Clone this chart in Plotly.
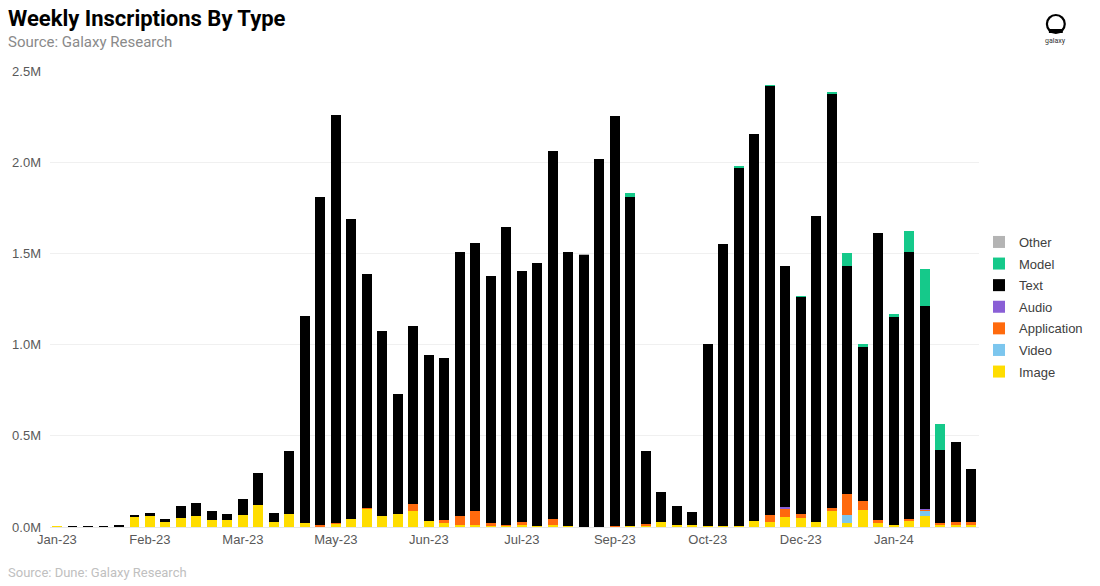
import pandas as pd
import plotly.graph_objects as go

# Weekly categories (week start dates)
weeks = pd.date_range("2023-01-02", periods=60, freq="7D")

# Values in millions of inscriptions per week
image = [0.004, 0, 0, 0, 0.003, 0.055, 0.06, 0.027, 0.049, 0.06,
         0.038, 0.038, 0.066, 0.12, 0.027, 0.071, 0.022, 0.004, 0.02, 0.044,
         0.099, 0.06, 0.071, 0.088, 0.033, 0.02, 0.011, 0.011, 0.006, 0.006,
         0.01, 0.006, 0.012, 0.005, 0.0, 0.002, 0.0, 0.006, 0.008, 0.027,
         0.01, 0.01, 0.008, 0.005, 0.005, 0.033, 0.027, 0.055, 0.049, 0.027,
         0.088, 0.022, 0.093, 0.022, 0.01, 0.038, 0.06, 0.01, 0.01, 0.012]
video = [0] * 51 + [0.044, 0, 0, 0, 0, 0.028, 0, 0, 0]
application = [0, 0, 0, 0, 0, 0, 0, 0, 0, 0,
               0, 0, 0, 0, 0, 0, 0, 0.008, 0.003, 0,
               0.006, 0, 0, 0.038, 0, 0.018, 0.049, 0.077, 0.016, 0.003,
               0.017, 0, 0.032, 0, 0, 0, 0.005, 0, 0.008, 0,
               0, 0, 0, 0, 0, 0, 0.039, 0.049, 0.022, 0,
               0.016, 0.114, 0.05, 0.016, 0, 0.006, 0.008, 0.012, 0.017, 0.015]
audio = [0] * 47 + [0.003] + [0] * 8 + [0.004, 0, 0, 0]
text = [0, 0.004, 0.004, 0.004, 0.004, 0.011, 0.017, 0.017, 0.066, 0.07,
        0.05, 0.033, 0.089, 0.176, 0.05, 0.346, 1.135, 1.797, 2.236, 1.645,
        1.282, 1.015, 0.658, 0.976, 0.91, 0.889, 1.448, 1.467, 1.354, 1.636,
        1.377, 1.441, 2.017, 1.502, 1.492, 2.016, 2.248, 1.803, 0.401, 0.163,
        0.105, 0.072, 0.995, 1.546, 1.963, 2.122, 2.352, 1.324, 1.19, 1.678,
        2.27, 1.251, 0.844, 1.572, 1.141, 1.464, 1.11, 0.398, 0.438, 0.293]
model = [0] * 37 + [0.022] + [0] * 6 + [0.011, 0, 0.005, 0, 0.005, 0,
                                       0.011, 0.071, 0.016, 0, 0.017, 0.115, 0.204, 0.143, 0, 0]
other = [0] * 34 + [0.004] + [0] * 25

series = [
    ("Image", image, "#FFDD00"),
    ("Video", video, "#7CC6EE"),
    ("Application", application, "#FF6A0D"),
    ("Audio", audio, "#8A5FD6"),
    ("Text", text, "#000000"),
    ("Model", model, "#15C98A"),
    ("Other", other, "#B4B4B4"),
]

ytick_vals = [0, 0.5e6, 1.0e6, 1.5e6, 2.0e6, 2.5e6]
ytick_text = ["0.0M", "0.5M", "1.0M", "1.5M", "2.0M", "2.5M"]

fig = go.Figure()
n = len(series)
for i, (name, vals, color) in enumerate(series):
    fig.add_trace(go.Bar(
        x=weeks, y=[v * 1e6 for v in vals], name=name, legendgroup=name,
        legendrank=n - i,
        marker=dict(color=color, line=dict(width=0)),
    ))

# pixel -> paper helpers for decorations outside the plot
L, R, T, B = 48, 985, 71, 527
def px(x):
    return (x - L) / (R - L)
def py(y):
    return (B - y) / (B - T)

week = pd.Timedelta(days=7)
fig.update_layout(
    width=1100, height=586,
    margin=dict(l=L, r=1100 - R, t=T, b=586 - B),
    barmode="stack", bargap=0.36,
    plot_bgcolor="white", paper_bgcolor="white",
    font=dict(family="Liberation Sans, Arial", color="#595959", size=13),
    showlegend=True,
    legend=dict(traceorder="grouped", x=px(985), y=py(307), xanchor="left", yanchor="middle",
                font=dict(size=13, color="#404040"), tracegroupgap=1.7,
                bgcolor="rgba(0,0,0,0)"),
    xaxis=dict(
        range=[weeks[0] - 0.45 * week, weeks[-1] + 0.5 * week],
        tickvals=list(weeks[::6]), tickformat="%b-%y",
        showgrid=False, ticks="", showline=True, linecolor="#E6E6E6",
        tickfont=dict(size=13, color="#595959"),
    ),
    yaxis=dict(
        range=[0, 2.5e6], tickvals=ytick_vals, ticktext=ytick_text,
        showgrid=True, gridcolor="#F0F0F0", zeroline=False, ticks="",
        tickfont=dict(size=13, color="#595959"), ticklabelstandoff=8,
    ),
)

fig.add_annotation(text="<b>Weekly Inscriptions By Type</b>", xref="paper", yref="paper",
                   x=px(4), y=py(18), xanchor="left", yanchor="middle", showarrow=False,
                   font=dict(family="Roboto", size=22, color="#000000"))
fig.add_annotation(text="Source: Galaxy Research", xref="paper", yref="paper",
                   x=px(4), y=py(42), xanchor="left", yanchor="middle", showarrow=False,
                   font=dict(family="Roboto", size=15, color="#8A8A8A"))
fig.add_annotation(text="Source: Dune: Galaxy Research", xref="paper", yref="paper",
                   x=px(4), y=py(572), xanchor="left", yanchor="middle", showarrow=False,
                   font=dict(family="Roboto", size=13, color="#C0C0C0"))

# galaxy logo
fig.add_shape(type="circle", xref="paper", yref="paper",
              x0=px(1053.5), x1=px(1071.5), y0=py(33), y1=py(15),
              line=dict(color="#000000", width=2.2), fillcolor="white")
fig.add_shape(type="rect", xref="paper", yref="paper",
              x0=px(1055.5), x1=px(1069.5), y0=py(33), y1=py(29),
              line=dict(width=0), fillcolor="#000000")
fig.add_annotation(text="galaxy", xref="paper", yref="paper",
                   x=px(1062.5), y=py(41), xanchor="center", yanchor="middle", showarrow=False,
                   font=dict(family="Roboto", size=7, color="#333333"))

fig.write_html("out.html")
